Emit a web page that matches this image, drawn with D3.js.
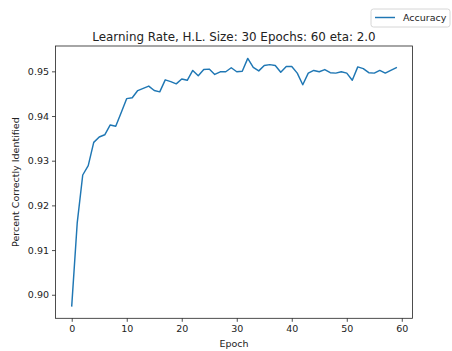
<!DOCTYPE html>
<html>
<head>
<meta charset="utf-8">
<script src="https://cdn.jsdelivr.net/npm/d3@7"></script>
<style>
  body { margin: 0; background: #fff; }
  svg { font-family: "DejaVu Sans", sans-serif; }
</style>
</head>
<body>
<svg width="452" height="351"></svg>
<script>
// accuracy per epoch
const epochs = d3.range(0, 60);
const accuracy = [
  0.8975, 0.9161, 0.9268, 0.9289, 0.9341, 0.9353, 0.9358, 0.9380, 0.9377, 0.9408,
  0.9439, 0.9441, 0.9457, 0.9462, 0.9467, 0.9457, 0.9454, 0.9481, 0.9477, 0.9472,
  0.9483, 0.9480, 0.9502, 0.9490, 0.9504, 0.9505, 0.9493, 0.9499, 0.9499, 0.9508,
  0.9499, 0.9500, 0.9529, 0.9509, 0.9501, 0.9513, 0.9515, 0.9513, 0.9498, 0.9511,
  0.9511, 0.9496, 0.9470, 0.9496, 0.9502, 0.9499, 0.9504, 0.9497, 0.9496, 0.9499,
  0.9496, 0.9480, 0.9510, 0.9506, 0.9497, 0.9496, 0.9502, 0.9496, 0.9502, 0.9508
];
const xTicks = [0, 10, 20, 30, 40, 50, 60];
const yTicks = [0.90, 0.91, 0.92, 0.93, 0.94, 0.95];

const svg = d3.select("svg");
const plotLeft = 55.5, plotRight = 412.5, plotTop = 46, plotBottom = 318.3;

// matplotlib style 5% margins
const xPad = (d3.max(epochs) - d3.min(epochs)) * 0.05;
const yPad = (d3.max(accuracy) - d3.min(accuracy)) * 0.05;
const x = d3.scaleLinear()
  .domain([d3.min(epochs) - xPad, d3.max(epochs) + xPad])
  .range([plotLeft, plotRight]);
const y = d3.scaleLinear()
  .domain([d3.min(accuracy) - yPad, d3.max(accuracy) + yPad])
  .range([plotBottom, plotTop]);

const line = d3.line()
  .x((d, i) => x(epochs[i]))
  .y(d => y(d));

svg.append("path")
  .datum(accuracy)
  .attr("d", line)
  .attr("fill", "none")
  .attr("stroke", "#1f77b4")
  .attr("stroke-width", 1.45)
  .attr("stroke-linejoin", "round")
  .attr("stroke-linecap", "square");

// axes
const xAxis = svg.append("g")
  .attr("transform", `translate(0,${plotBottom})`)
  .call(d3.axisBottom(x).tickValues(xTicks).tickSize(3.5).tickPadding(3).tickFormat(d3.format("d")));
const yAxis = svg.append("g")
  .attr("transform", `translate(${plotLeft},0)`)
  .call(d3.axisLeft(y).tickValues(yTicks).tickSize(3.5).tickPadding(3).tickFormat(d3.format(".2f")));

[xAxis, yAxis].forEach(g => {
  g.select(".domain").remove();
  g.selectAll("text").attr("font-size", "9.5px").attr("fill", "#222").attr("font-family", "DejaVu Sans");
  g.selectAll("line").attr("stroke", "#222").attr("stroke-width", 0.8);
});

// frame
svg.append("rect")
  .attr("x", plotLeft).attr("y", plotTop)
  .attr("width", plotRight - plotLeft).attr("height", plotBottom - plotTop)
  .attr("fill", "none")
  .attr("stroke", "#222")
  .attr("stroke-width", 0.8);

// title and labels
svg.append("text")
  .attr("x", (plotLeft + plotRight) / 2).attr("y", 40.5)
  .attr("text-anchor", "middle")
  .attr("font-size", "11.9px")
  .attr("fill", "#222")
  .text("Learning Rate, H.L. Size: 30 Epochs: 60 eta: 2.0");

svg.append("text")
  .attr("x", (plotLeft + plotRight) / 2).attr("y", 347)
  .attr("text-anchor", "middle")
  .attr("font-size", "9.5px")
  .attr("fill", "#222")
  .text("Epoch");

svg.append("text")
  .attr("transform", `translate(19,${(plotTop + plotBottom) / 2}) rotate(-90)`)
  .attr("text-anchor", "middle")
  .attr("font-size", "9.5px")
  .attr("fill", "#222")
  .text("Percent Correctly Identified");

// legend
const legend = svg.append("g").attr("transform", "translate(371,9)");
legend.append("rect")
  .attr("width", 79).attr("height", 18)
  .attr("rx", 2.5)
  .attr("fill", "#fff")
  .attr("stroke", "#ccc")
  .attr("stroke-width", 0.8);
legend.append("line")
  .attr("x1", 4).attr("x2", 24)
  .attr("y1", 8.5).attr("y2", 8.5)
  .attr("stroke", "#1f77b4")
  .attr("stroke-width", 1.45);
legend.append("text")
  .attr("x", 32).attr("y", 12)
  .attr("font-size", "9.5px")
  .attr("fill", "#222")
  .text("Accuracy");
</script>
</body>
</html>
